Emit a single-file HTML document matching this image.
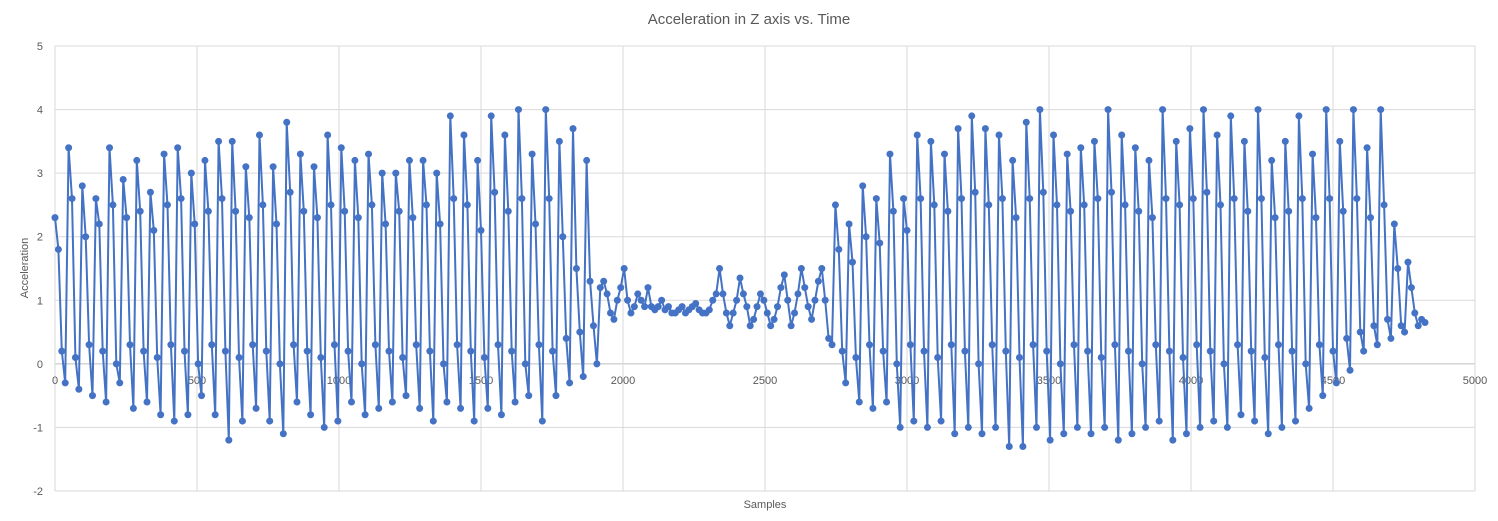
<!DOCTYPE html>
<html><head><meta charset="utf-8"><style>
html,body{margin:0;padding:0;background:#fff;}
svg{display:block;font-family:"Liberation Sans",sans-serif;}
</style></head><body>
<svg id="chart" width="1498" height="521" viewBox="0 0 1498 521">
<rect x="0" y="0" width="1498" height="521" fill="#fff"/>
<text x="749" y="24" text-anchor="middle" font-size="15" fill="#595959">Acceleration in Z axis vs. Time</text>
<g id="grid"></g>
<g id="ticks"></g>
<g id="series"></g>
<text x="28" y="268" text-anchor="middle" font-size="11" fill="#595959" transform="rotate(-90 28 268)">Acceleration</text>
<text x="765" y="508" text-anchor="middle" font-size="11" fill="#595959">Samples</text>
</svg>
<script>
const xTicks=[0,500,1000,1500,2000,2500,3000,3500,4000,4500,5000];
const yTicks=[-2,-1,0,1,2,3,4,5];
const sampleStep=12;
const segA=[2.3,1.8,0.2,-0.3, 3.4,2.6,0.1,-0.4, 2.8,2.0,0.3,-0.5, 2.6,2.2,0.2,-0.6,
3.4,2.5,0.0,-0.3, 2.9,2.3,0.3,-0.7, 3.2,2.4,0.2,-0.6, 2.7,2.1,0.1,-0.8,
3.3,2.5,0.3,-0.9, 3.4,2.6,0.2,-0.8, 3.0,2.2,0.0,-0.5, 3.2,2.4,0.3,-0.8,
3.5,2.6,0.2,-1.2, 3.5,2.4,0.1,-0.9, 3.1,2.3,0.3,-0.7, 3.6,2.5,0.2,-0.9,
3.1,2.2,0.0,-1.1, 3.8,2.7,0.3,-0.6, 3.3,2.4,0.2,-0.8, 3.1,2.3,0.1,-1.0,
3.6,2.5,0.3,-0.9, 3.4,2.4,0.2,-0.6, 3.2,2.3,0.0,-0.8, 3.3,2.5,0.3,-0.7,
3.0,2.2,0.2,-0.6, 3.0,2.4,0.1,-0.5, 3.2,2.3,0.3,-0.7, 3.2,2.5,0.2,-0.9,
3.0,2.2,0.0,-0.6, 3.9,2.6,0.3,-0.7, 3.6,2.5,0.2,-0.9, 3.2,2.1,0.1,-0.7,
3.9,2.7,0.3,-0.8, 3.6,2.4,0.2,-0.6, 4.0,2.6,0.0,-0.5, 3.3,2.2,0.3,-0.9,
4.0,2.6,0.2,-0.5, 3.5,2.0,0.4,-0.3, 3.7,1.5,0.5,-0.2, 3.2,1.3,0.6,0.0];
const segB=[1.2,1.3,1.1,0.8,0.7,1.0,1.2,1.5,1.0,0.8,0.9,1.1,1.0,0.9,1.2,0.9,
0.85,0.9,1.0,0.85,0.9,0.8,0.8,0.85,0.9,0.8,0.85,0.9,0.95,0.85,0.8,0.8,0.85,
1.0,1.1,1.5,1.1,0.8,0.6,0.8,1.0,1.35,1.1,0.9,0.6,0.7,0.9,1.1,1.0,0.8,0.6,0.7,
0.9,1.2,1.4,1.0,0.6,0.8,1.1,1.5,1.2,0.9,0.7,1.0,1.3];
const segC=[1.5,1.0,0.4,0.3, 2.5,1.8,0.2,-0.3, 2.2,1.6,0.1,-0.6, 2.8,2.0,0.3,-0.7,
2.6,1.9,0.2,-0.6, 3.3,2.4,0.0,-1.0, 2.6,2.1,0.3,-0.9, 3.6,2.6,0.2,-1.0,
3.5,2.5,0.1,-0.9, 3.3,2.4,0.3,-1.1, 3.7,2.6,0.2,-1.0, 3.9,2.7,0.0,-1.1,
3.7,2.5,0.3,-1.0, 3.6,2.6,0.2,-1.3, 3.2,2.3,0.1,-1.3, 3.8,2.6,0.3,-1.0,
4.0,2.7,0.2,-1.2, 3.6,2.5,0.0,-1.1, 3.3,2.4,0.3,-1.0, 3.4,2.5,0.2,-1.1,
3.5,2.6,0.1,-1.0, 4.0,2.7,0.3,-1.2, 3.6,2.5,0.2,-1.1, 3.4,2.4,0.0,-1.0,
3.2,2.3,0.3,-0.9, 4.0,2.6,0.2,-1.2, 3.5,2.5,0.1,-1.1, 3.7,2.6,0.3,-1.0,
4.0,2.7,0.2,-0.9, 3.6,2.5,0.0,-1.0, 3.9,2.6,0.3,-0.8, 3.5,2.4,0.2,-0.9,
4.0,2.6,0.1,-1.1, 3.2,2.3,0.3,-1.0, 3.5,2.4,0.2,-0.9, 3.9,2.6,0.0,-0.7,
3.3,2.3,0.3,-0.5, 4.0,2.6,0.2,-0.3, 3.5,2.4,0.4,-0.1, 4.0,2.6,0.5,0.2,
3.4,2.3,0.6,0.3, 4.0,2.5,0.7,0.4, 2.2,1.5,0.6,0.5, 1.6,1.2,0.8,0.6, 0.7,0.65];
const values=segA.concat(segB,segC);

const X0=55,X1=1475,Y0=491,Y1=46;
const xs=v=>X0+(v-0)/(5000-0)*(X1-X0);
const ys=v=>Y0-(v-(-2))/(5-(-2))*(Y0-Y1);
const NS="http://www.w3.org/2000/svg";
const grid=document.getElementById('grid'),ticks=document.getElementById('ticks'),ser=document.getElementById('series');
function mk(tag,attrs,parent){const e=document.createElementNS(NS,tag);for(const k in attrs)e.setAttribute(k,attrs[k]);parent.appendChild(e);return e;}
yTicks.forEach(t=>{
  const l=mk('line',{x1:X0,x2:X1,y1:ys(t),y2:ys(t),stroke:t===0?'#bfbfbf':'#d9d9d9','stroke-width':1},grid);
  
  
  const tx=mk('text',{x:X0-12,y:ys(t)+4,'text-anchor':'end','font-size':11,fill:'#595959'},ticks);
  tx.textContent=t;
  
  
});
xTicks.forEach(t=>{
  const l=mk('line',{x1:xs(t),x2:xs(t),y1:Y1,y2:Y0,stroke:'#d9d9d9','stroke-width':1},grid);
  
  
  const tx=mk('text',{x:xs(t),y:ys(0)+20,'text-anchor':'middle','font-size':11,fill:'#595959'},ticks);
  tx.textContent=t;
  
  
});
let d='';
values.forEach((v,i)=>{d+=(i?'L':'M')+xs(i*sampleStep).toFixed(1)+','+ys(v).toFixed(1);});
const path=mk('path',{d:d,fill:'none',stroke:'#4472C4','stroke-width':2,'stroke-linejoin':'round'},ser);


values.forEach((v,i)=>{
  const c=mk('circle',{cx:xs(i*sampleStep),cy:ys(v),r:3.5,fill:'#4472C4'},ser);
  
  
});
</script>
</body></html>
